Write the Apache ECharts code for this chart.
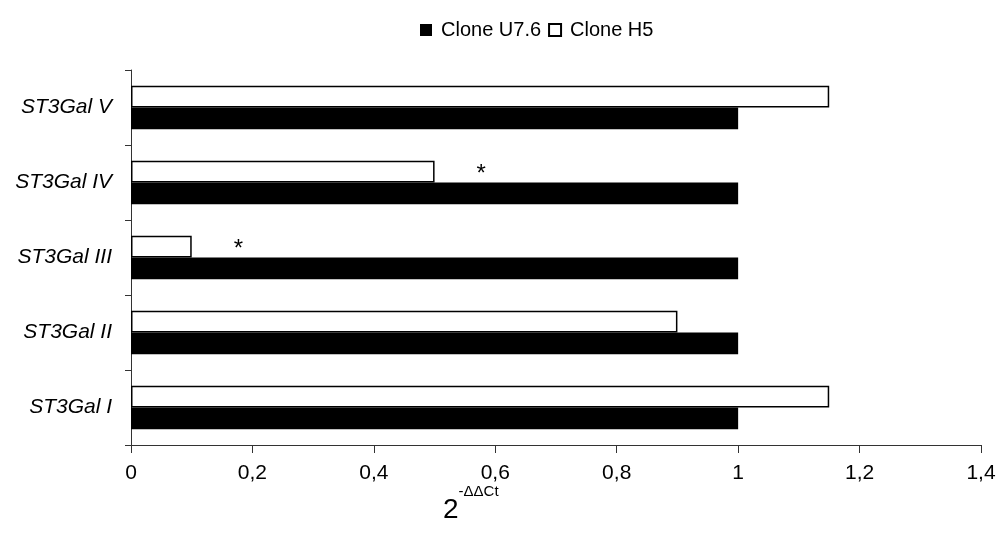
<!DOCTYPE html>
<html>
<head>
<meta charset="utf-8">
<script src="https://cdn.jsdelivr.net/npm/echarts@6/dist/echarts.min.js"></script>
<style>
  html, body { margin: 0; padding: 0; background: #fff; }
  #chart { width: 1001px; height: 536px; }
</style>
</head>
<body>
<div id="chart"></div>
<script>
// Relative expression of the ST3Gal sialyltransferases in two clones
const categories = ['ST3Gal I', 'ST3Gal II', 'ST3Gal III', 'ST3Gal IV', 'ST3Gal V'];
const u76Values = [1, 1, 1, 1, 1];
const h5Values = [1.15, 0.9, 0.1, 0.5, 1.15];
const significance = ['', '', '*', '*', ''];
const xTicks = [0, 0.2, 0.4, 0.6, 0.8, 1, 1.2, 1.4];

const FONT = '"Liberation Sans", Arial, sans-serif';
const AXIS_COLOR = '#333';

const chart = echarts.init(document.getElementById('chart'), null, { renderer: 'canvas' });

chart.setOption({
  animation: false,
  backgroundColor: '#fff',
  textStyle: { fontFamily: FONT, color: '#000' },
  legend: {
    left: 415,
    top: 15,
    itemWidth: 12,
    itemHeight: 12,
    itemGap: 7,
    icon: 'rect',
    textStyle: { fontFamily: FONT, fontSize: 20, color: '#000', padding: [0, 0, 0, 4] },
    data: ['Clone U7.6', 'Clone H5']
  },
  grid: { left: 131, right: 20, top: 70, bottom: 91, containLabel: false },
  xAxis: {
    type: 'value',
    min: xTicks[0],
    max: xTicks[xTicks.length - 1],
    interval: 0.2,
    axisLine: { show: true, lineStyle: { color: AXIS_COLOR, width: 1 } },
    axisTick: { show: true, length: 8, lineStyle: { color: AXIS_COLOR } },
    splitLine: { show: false },
    axisLabel: {
      margin: 18,
      fontSize: 21,
      fontFamily: FONT,
      color: '#000',
      formatter: v => String(+v.toFixed(1)).replace('.', ',')
    }
  },
  yAxis: {
    type: 'category',
    data: categories,
    axisLine: { show: true, lineStyle: { color: AXIS_COLOR, width: 1 } },
    axisTick: { show: true, length: 6, lineStyle: { color: AXIS_COLOR } },
    axisLabel: {
      margin: 19,
      fontSize: 21,
      fontStyle: 'italic',
      fontFamily: FONT,
      color: '#000'
    }
  },
  graphic: [{
    type: 'text',
    left: 443,
    top: 484,
    style: {
      text: '{b|2}{s|-ΔΔCt}',
      rich: {
        b: { fontSize: 28, fontFamily: FONT, fill: '#000', verticalAlign: 'bottom', lineHeight: 40 },
        s: { fontSize: 15, fontFamily: FONT, fill: '#000', verticalAlign: 'top', lineHeight: 40, padding: [0, 0, 22, 0] }
      }
    }
  }],
  series: [
    {
      name: 'Clone H5',
      type: 'bar',
      data: h5Values.map((v, i) => ({
        value: v,
        label: {
          show: significance[i] !== '',
          formatter: significance[i],
          position: 'right',
          distance: 42,
          fontSize: 24,
          fontFamily: FONT,
          color: '#000',
          offset: [0, 3]
        }
      })),
      barGap: '0%',
      barCategoryGap: '42%',
      itemStyle: { color: '#fff', borderColor: '#000', borderWidth: 1.5 }
    },
    {
      name: 'Clone U7.6',
      type: 'bar',
      data: u76Values,
      barGap: '0%',
      barCategoryGap: '42%',
      itemStyle: { color: '#000', borderColor: '#000', borderWidth: 0 }
    }
  ]
});
</script>
</body>
</html>
